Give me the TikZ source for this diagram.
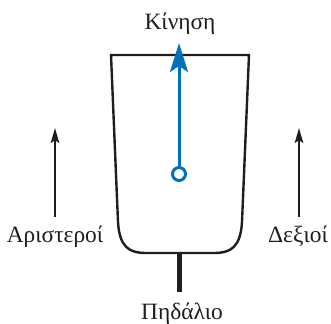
\documentclass[tikz,border=0pt]{standalone}
\usepackage{fontspec}
\setmainfont{Liberation Serif}
\usetikzlibrary{arrows.meta}
\definecolor{mblue}{RGB}{0,114,188}
\definecolor{dark}{RGB}{30,30,30}
\begin{document}
\begin{tikzpicture}[x=1bp,y=-1bp,
  lbl/.style={font=\fontsize{23.5}{26}\selectfont, text=dark, inner sep=0pt, anchor=base},
  sidearrow/.style={draw=dark, line width=2.3bp, -{Stealth[length=15bp,width=8.5bp,inset=3bp]}},
  boat/.style={draw=dark, line width=2.4bp, line join=miter},
  rudder/.style={draw=dark, line width=4.2bp},
  motion/.style={draw=mblue, line width=3bp, -{Stealth[length=29bp,width=18bp,inset=6bp]}}]
\useasboundingbox (0,0) rectangle (331,324);
% boat hull
\draw[boat] (111,55) -- (249,55) -- (242,222)
  .. controls (240.5,246) and (232,253) .. (214,253) -- (146,253)
  .. controls (128,253) and (119.5,246) .. (118,222) -- cycle;
% rudder
\coordinate (rtop) at (179.5,253);
\coordinate (rbot) at (179.5,292);
\draw[rudder] (rtop) -- (rbot);
% motion arrow
\node[circle, draw=mblue, line width=3bp, minimum size=13bp, inner sep=0pt] (piv) at (179,174) {};
\coordinate (mtip) at (179,43);
\draw[motion] (piv.north) -- (mtip);
% side arrows
\coordinate (l0) at (55,217);
\coordinate (l1) at (55,128);
\draw[sidearrow] (l0) -- (l1);
\coordinate (r0) at (299,217);
\coordinate (r1) at (299,128);
\draw[sidearrow] (r0) -- (r1);
% labels
\node[lbl] (kin) at (180,29) {Κίνηση};
\node[lbl] (ari) at (55,242) {Αριστεροί};
\node[lbl] (dex) at (298,242) {Δεξιοί};
\node[lbl] (pid) at (182,319) {Πηδάλιο};
\end{tikzpicture}
\end{document}
